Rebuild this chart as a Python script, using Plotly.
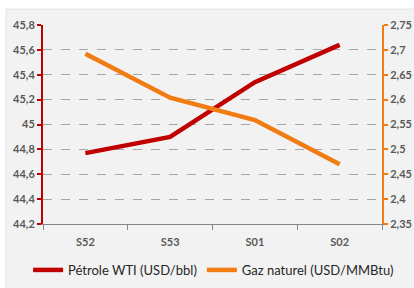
import plotly.graph_objects as go

categories = ["S52", "S53", "S01", "S02"]
wti = [44.77, 44.90, 45.34, 45.64]
gaz = [2.692, 2.604, 2.559, 2.470]

left_ticks = [44.2, 44.4, 44.6, 44.8, 45.0, 45.2, 45.4, 45.6, 45.8]
left_labels = ["44,2", "44,4", "44,6", "44,8", "45", "45,2", "45,4", "45,6", "45,8"]
right_ticks = [2.35, 2.40, 2.45, 2.50, 2.55, 2.60, 2.65, 2.70, 2.75]
right_labels = ["2,35", "2,4", "2,45", "2,5", "2,55", "2,6", "2,65", "2,7", "2,75"]

RED = "#c00000"
ORANGE = "#f07c12"
TICKFONT = dict(family="Lato, Carlito, sans-serif", size=11, color="#595959", weight="bold")

fig = go.Figure()
fig.add_trace(go.Scatter(x=categories, y=wti, name="Pétrole WTI (USD/bbl)", mode="lines",
                         line=dict(color=RED, width=4.5), yaxis="y"))
fig.add_trace(go.Scatter(x=categories, y=gaz, name="Gaz naturel (USD/MMBtu)", mode="lines",
                         line=dict(color=ORANGE, width=4.5), yaxis="y2"))

fig.add_shape(type="rect", xref="paper", yref="paper", x0=-0.109, x1=1.1, y0=-0.33, y1=1.08,
              fillcolor="#f2f2f2", line=dict(color="#e3e3e3", width=1), layer="below")

fig.update_layout(
    width=414, height=288,
    margin=dict(l=43, r=32, t=25, b=64, autoexpand=False),
    paper_bgcolor="white", plot_bgcolor="#f2f2f2",
    showlegend=True,
    legend=dict(orientation="h", x=-0.044, xanchor="left", y=-0.231, yanchor="middle",
                font=dict(family="Lato, Carlito, sans-serif", size=13, color="#262626"),
                bgcolor="rgba(0,0,0,0)", itemwidth=30, tracegroupgap=0),
    xaxis=dict(type="category", tickson="boundaries", ticks="outside", ticklen=5,
               tickcolor="#868686", showline=True, linecolor="#868686", linewidth=1,
               showgrid=False, tickfont=TICKFONT, range=[-0.5, 3.5], automargin=False,
               ticklabelstandoff=8),
    yaxis=dict(range=[44.2, 45.8], tickvals=left_ticks, ticktext=left_labels,
               showline=True, linecolor=RED, linewidth=2, ticks="outside", ticklen=4,
               tickcolor=RED, tickwidth=2, showgrid=True, gridcolor="#a6a6a6", griddash="dash",
               gridwidth=1, zeroline=False, tickfont=TICKFONT, automargin=False),
    yaxis2=dict(range=[2.35, 2.75], tickvals=right_ticks, ticktext=right_labels,
                overlaying="y", side="right", showline=True, linecolor=ORANGE, linewidth=2,
                ticks="outside", ticklen=4, tickcolor=ORANGE, tickwidth=2, showgrid=False,
                zeroline=False, tickfont=TICKFONT, automargin=False),
)

fig.write_html("out.html", config={"displayModeBar": False},
               post_script="document.body.style.margin='0';document.body.style.overflow='hidden';")
